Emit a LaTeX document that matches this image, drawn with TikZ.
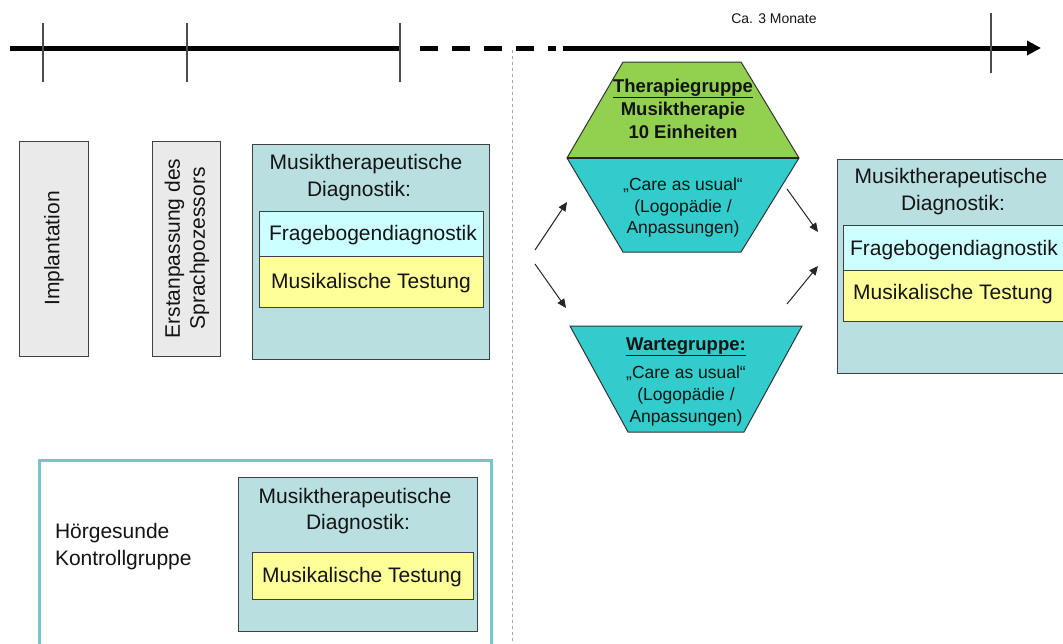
\documentclass[tikz,border=0pt]{standalone}
\usepackage{fontspec}
\setmainfont{Liberation Sans}
\usetikzlibrary{arrows.meta}
\definecolor{diagfill}{RGB}{185,223,224}
\definecolor{grayfill}{RGB}{234,234,234}
\definecolor{cyanfill}{RGB}{204,255,255}
\definecolor{yellowfill}{RGB}{255,255,153}
\definecolor{greenfill}{RGB}{146,208,80}
\definecolor{tealfill}{RGB}{51,204,204}
\definecolor{ctrlborder}{RGB}{120,196,200}
\definecolor{txt}{RGB}{20,20,20}
\begin{document}
\begin{tikzpicture}[x=1pt,y=-1pt,
  every node/.style={inner sep=0pt,outer sep=0pt,text=txt},
  boxstyle/.style={draw=black!75,line width=0.9pt,anchor=north west},
  fbig/.style={font=\fontsize{21}{25}\selectfont},
  fmid/.style={font=\fontsize{17.5}{21}\selectfont},
  fbold/.style={font=\fontsize{18.5}{21}\selectfont\bfseries},
  tickline/.style={draw=black!70,line width=1.3pt},
  flowarrow/.style={draw=black!85,line width=1pt,-{Triangle[length=9pt,width=8pt]}},
  shapeline/.style={draw=black!80,line width=1pt}]
\useasboundingbox (0,0) rectangle (1063,643);
\clip (0,0) rectangle (1063,643);

% timeline
\coordinate (t0) at (10,48);
\coordinate (t1) at (399,48);
\coordinate (d0) at (420,48);
\coordinate (d1) at (556,48);
\coordinate (s0) at (563,48);
\coordinate (tend) at (1041,48);
\draw[line width=5pt] (t0) -- (t1);
\draw[line width=5pt,dash pattern=on 18pt off 14pt] (d0) -- (d1);
\draw[line width=5pt,-{Triangle[length=14pt,width=14pt]}] (s0) -- (tend);
\coordinate (k1a) at (43,23); \coordinate (k1b) at (43,82);
\coordinate (k2a) at (187,23); \coordinate (k2b) at (187,82);
\coordinate (k3a) at (400,23); \coordinate (k3b) at (400,82);
\coordinate (k4a) at (991,13); \coordinate (k4b) at (991,73);
\draw[tickline] (k1a) -- (k1b);
\draw[tickline] (k2a) -- (k2b);
\draw[tickline] (k3a) -- (k3b);
\draw[tickline] (k4a) -- (k4b);
\node[font=\fontsize{14}{16}\selectfont,anchor=base] (monate) at (774,23) {Ca. 3 Monate};

% vertical separator
\coordinate (v0) at (512,50);
\coordinate (v1) at (512,645);
\draw[gray!70,line width=1pt,dash pattern=on 3pt off 3pt] (v0) -- (v1);

% left boxes
\node[boxstyle,fill=grayfill,minimum width=69pt,minimum height=215pt] (impl) at (19.5,141) {};
\node[fbig,rotate=90] (impltxt) at (impl.center) {Implantation};
\node[boxstyle,fill=grayfill,minimum width=68pt,minimum height=215pt] (erst) at (152,141) {};
\node[fbig,rotate=90,align=center] (ersttxt) at ([xshift=1pt]erst.center) {Erstanpassung des\\Sprachpozessors};

\node[boxstyle,fill=diagfill,minimum width=237pt,minimum height=215pt] (diagL) at (252.5,144) {};
\node[fbig,anchor=base] (diagL1) at (366,169) {Musiktherapeutische};
\node[fbig,anchor=base] (diagL2) at (359,196) {Diagnostik:};
\node[boxstyle,fill=cyanfill,minimum width=224pt,minimum height=45pt] (frageL) at (259,211) {};
\node[boxstyle,fill=yellowfill,minimum width=224pt,minimum height=51pt] (musikL) at (259,256) {};
\node[fbig,anchor=base] (frageLt) at (373,240) {Fragebogendiagnostik};
\node[fbig,anchor=base] (musikLt) at (371,288) {Musikalische Testung};

% right box
\node[boxstyle,fill=diagfill,minimum width=240pt,minimum height=214pt] (diagR) at (837,159) {};
\node[fbig,anchor=base] (diagR1) at (951,183) {Musiktherapeutische};
\node[fbig,anchor=base] (diagR2) at (953,210) {Diagnostik:};
\node[boxstyle,fill=cyanfill,minimum width=240pt,minimum height=45pt] (frageR) at (843,225) {};
\node[boxstyle,fill=yellowfill,minimum width=240pt,minimum height=51pt] (musikR) at (843,270) {};
\node[fbig,anchor=base] (frageRt) at (954,255) {Fragebogendiagnostik};
\node[fbig,anchor=base] (musikRt) at (953,299) {Musikalische Testung};

% control group
\node[draw=ctrlborder,line width=3pt,fill=white,anchor=north west,minimum width=452pt,minimum height=220pt] (ctrl) at (39.5,460) {};
\node[fbig,anchor=base west,align=left] (ctrl1) at (55,538) {Hörgesunde};
\node[fbig,anchor=base west] (ctrl2) at (55,565) {Kontrollgruppe};
\node[boxstyle,fill=diagfill,minimum width=239pt,minimum height=154pt] (diagC) at (238,477) {};
\node[fbig,anchor=base] (diagC1) at (355,503) {Musiktherapeutische};
\node[fbig,anchor=base] (diagC2) at (358,529) {Diagnostik:};
\node[boxstyle,fill=yellowfill,minimum width=221pt,minimum height=47pt] (musikC) at (252,552) {};
\node[fbig,anchor=base] (musikCt) at (362,582) {Musikalische Testung};

% therapy hexagon
\coordinate (h1) at (623,62);
\coordinate (h2) at (741,62);
\coordinate (h3) at (799,158);
\coordinate (h4) at (741,252);
\coordinate (h5) at (623,252);
\coordinate (h6) at (567,158);
\fill[greenfill] (h1) -- (h2) -- (h3) -- (h6) -- cycle;
\fill[tealfill] (h6) -- (h3) -- (h4) -- (h5) -- cycle;
\draw[shapeline] (h1) -- (h2) -- (h3) -- (h4) -- (h5) -- (h6) -- cycle;
\draw[black!85,line width=2pt] (h6) -- (h3);
\node[fbold,anchor=base] (th1) at (683,92) {\underline{Therapiegruppe}};
\node[fbold,anchor=base] (th2) at (683,115) {Musiktherapie};
\node[fbold,anchor=base] (th3) at (683,138) {10 Einheiten};
\node[fmid,anchor=base] (th4) at (683,190) {„Care as usual“};
\node[fmid,anchor=base] (th5) at (683,212) {(Logopädie /};
\node[fmid,anchor=base] (th6) at (683,233) {Anpassungen)};

% waiting group trapezoid
\coordinate (w1) at (570,326);
\coordinate (w2) at (802,326);
\coordinate (w3) at (744,432);
\coordinate (w4) at (628,432);
\fill[tealfill] (w1) -- (w2) -- (w3) -- (w4) -- cycle;
\draw[shapeline] (w1) -- (w2) -- (w3) -- (w4) -- cycle;
\node[fbold,anchor=base] (wt1) at (686,350) {\underline{Wartegruppe:}};
\node[fmid,anchor=base] (wt2) at (686,378) {„Care as usual“};
\node[fmid,anchor=base] (wt3) at (686,400) {(Logopädie /};
\node[fmid,anchor=base] (wt4) at (686,422) {Anpassungen)};

% flow arrows
\coordinate (a1s) at (535,250); \coordinate (a1e) at (567,202);
\coordinate (a2s) at (535,264); \coordinate (a2e) at (566,308);
\coordinate (a3s) at (787,189); \coordinate (a3e) at (818,232);
\coordinate (a4s) at (787,304); \coordinate (a4e) at (818,266);
\draw[flowarrow] (a1s) -- (a1e);
\draw[flowarrow] (a2s) -- (a2e);
\draw[flowarrow] (a3s) -- (a3e);
\draw[flowarrow] (a4s) -- (a4e);
\end{tikzpicture}
\end{document}
